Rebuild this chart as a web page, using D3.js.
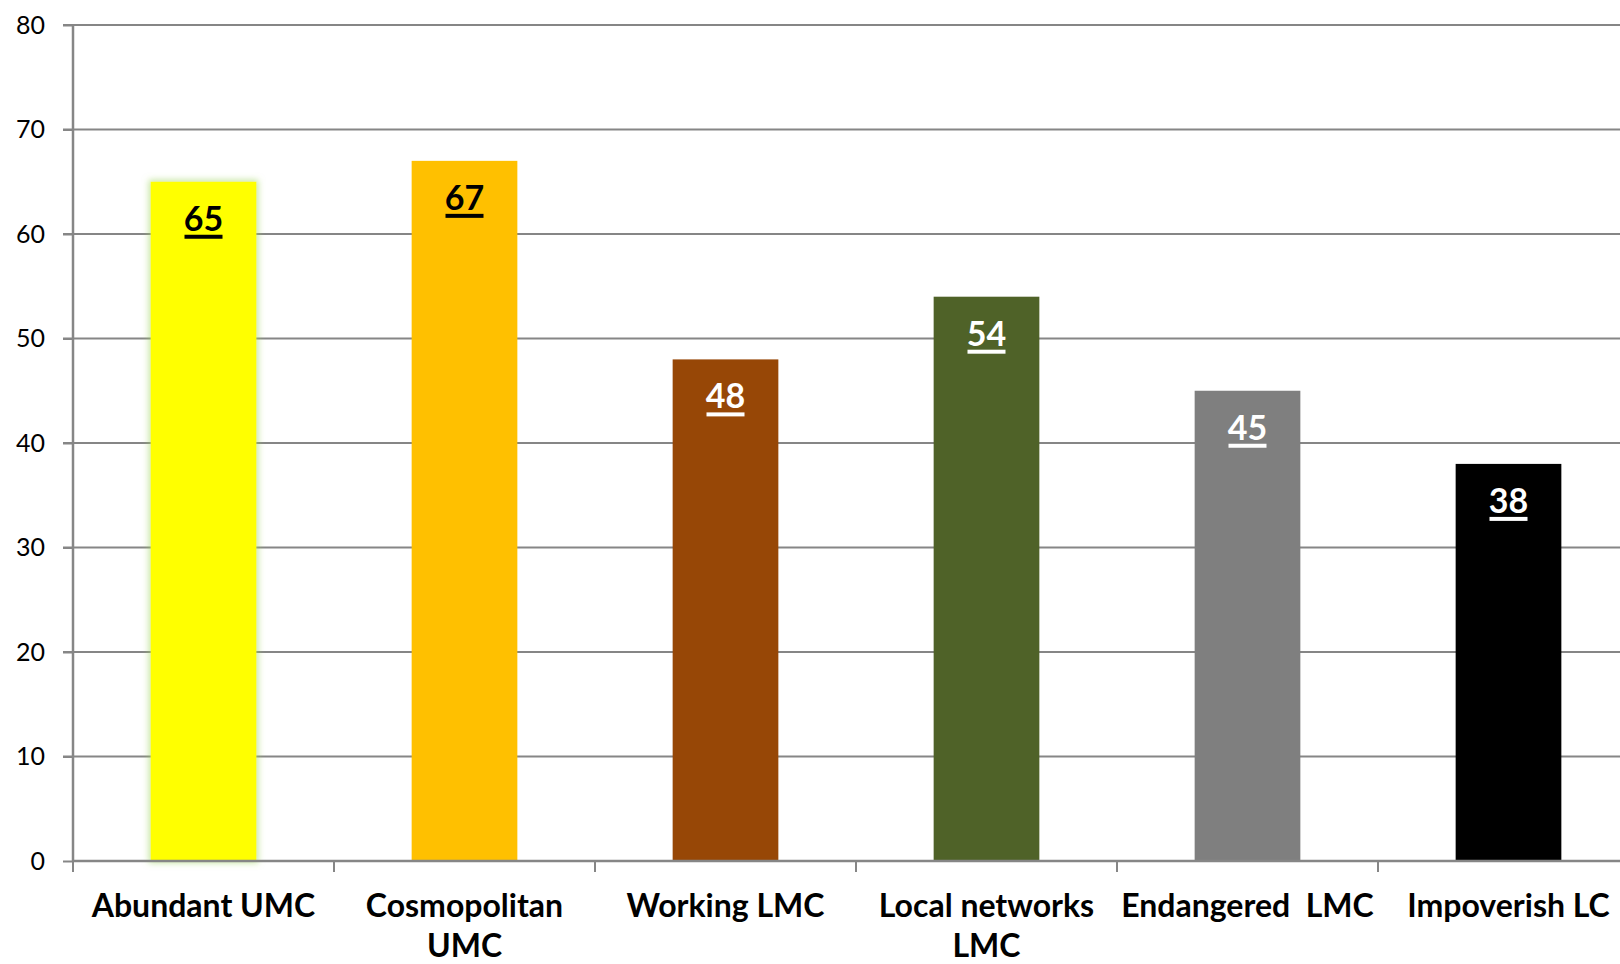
<!DOCTYPE html>
<html><head><meta charset="utf-8">
<script src="https://cdn.jsdelivr.net/npm/d3@7"></script>
<style>
html,body{margin:0;padding:0;background:#fff;overflow:hidden;}
text{font-family:Lato,"Open Sans",sans-serif;}
</style></head>
<body><svg id="chart" width="1620" height="964"></svg>
<script>
const categories = ["Abundant UMC","Cosmopolitan UMC","Working LMC","Local networks LMC","Endangered  LMC","Impoverish LC"];
const categoryLines = [["Abundant UMC"],["Cosmopolitan","UMC"],["Working LMC"],["Local networks","LMC"],["Endangered  LMC"],["Impoverish LC"]];
const values = [65,67,48,54,45,38];
const barColors = ["#FFFF00","#FFC000","#974706","#4F6228","#7F7F7F","#000000"];
const labelColors = ["#000","#000","#fff","#fff","#fff","#fff"];
const yTicks = [0,10,20,30,40,50,60,70,80];

const svg = d3.select("#chart");
const x0 = 73, x1 = 1639, yTop = 25, yBot = 861;
const x = d3.scaleBand().domain(categories).range([x0,x1]).paddingInner(0.595).paddingOuter(0.2975);
const y = d3.scaleLinear().domain([0,80]).range([yBot,yTop]);
const step = x.step();

const defs = svg.append("defs");
const f = defs.append("filter").attr("id","glow").attr("x","-20%").attr("y","-5%").attr("width","140%").attr("height","110%");
f.append("feMorphology").attr("in","SourceAlpha").attr("operator","dilate").attr("radius",2).attr("result","d");
f.append("feGaussianBlur").attr("in","d").attr("stdDeviation",3).attr("result","b");
f.append("feFlood").attr("flood-color","#9BD35A").attr("flood-opacity",0.55);
f.append("feComposite").attr("in2","b").attr("operator","in").attr("result","g");
const m = f.append("feMerge"); m.append("feMergeNode").attr("in","g"); m.append("feMergeNode").attr("in","SourceGraphic");

// gridlines
svg.append("g").selectAll("line").data(yTicks.filter(d=>d>0)).join("line")
  .attr("x1",x0-10).attr("x2",1620).attr("y1",d=>y(d)).attr("y2",d=>y(d))
  .attr("stroke","#868686").attr("stroke-width",2);

// y axis
const yAxis = svg.append("g").attr("transform",`translate(${x0},0)`)
  .call(d3.axisLeft(y).tickValues(yTicks).tickSize(10).tickPadding(18));
yAxis.select(".domain").attr("stroke","#868686").attr("stroke-width",2.5).attr("d",`M0,${yTop-1}V${yBot}`);
yAxis.selectAll(".tick line").attr("stroke","#868686").attr("stroke-width",2);
yAxis.selectAll(".tick text").attr("font-size",25).attr("fill","#000").attr("font-family","Lato");

// bars
svg.append("g").selectAll("rect").data(values).join("rect")
  .attr("x",(d,i)=>x(categories[i])).attr("width",x.bandwidth())
  .attr("y",d=>y(d)).attr("height",d=>yBot-y(d))
  .attr("fill",(d,i)=>barColors[i])
  .attr("filter",(d,i)=>i===0?"url(#glow)":null);

// x axis
svg.append("line").attr("x1",x0).attr("x2",1620).attr("y1",yBot).attr("y2",yBot)
  .attr("stroke","#868686").attr("stroke-width",2.5);
svg.append("g").selectAll("line").data(d3.range(categories.length+1)).join("line")
  .attr("x1",i=>x0+i*step).attr("x2",i=>x0+i*step).attr("y1",yBot).attr("y2",yBot+11)
  .attr("stroke","#868686").attr("stroke-width",2);

// value labels
const vl = svg.append("g").selectAll("g").data(values).join("g")
  .attr("transform",(d,i)=>`translate(${x(categories[i])+x.bandwidth()/2},${y(d)+49})`);
vl.append("text").attr("text-anchor","middle").attr("font-size",34).attr("font-weight","bold")
  .attr("fill",(d,i)=>labelColors[i]).text(d=>d);
vl.append("rect").attr("x",-19).attr("y",4).attr("width",38).attr("height",4)
  .attr("fill",(d,i)=>labelColors[i]);

// category labels
const cl = svg.append("g").selectAll("text").data(categories).join("text")
  .attr("text-anchor","middle").attr("font-size",32).attr("font-weight","bold").attr("fill","#000")
  .attr("x",d=>x(d)+x.bandwidth()/2).attr("y",917).style("white-space","pre");
cl.selectAll("tspan").data((d,i)=>categoryLines[i]).join("tspan")
  .attr("x",function(){return this.parentNode.getAttribute("x");})
  .attr("dy",(d,j)=>j===0?0:40).text(d=>d);
</script></body></html>
